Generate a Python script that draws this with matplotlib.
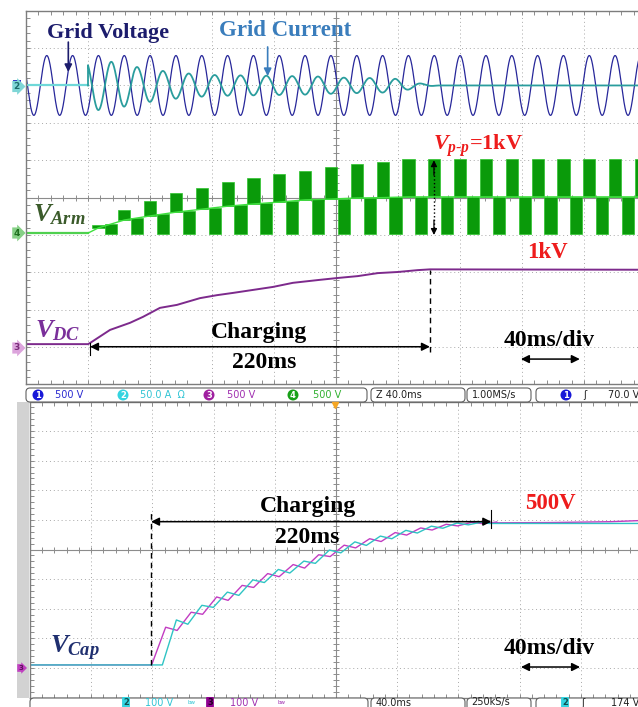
import numpy as np
import matplotlib.pyplot as plt
from matplotlib.patches import FancyBboxPatch, Rectangle

plt.rcParams['mathtext.fontset'] = 'custom'
plt.rcParams['mathtext.it'] = 'Liberation Serif:italic:bold'
plt.rcParams['mathtext.rm'] = 'Liberation Serif:bold'
plt.rcParams['mathtext.bf'] = 'Liberation Serif:bold'

W, H = 638, 707
SERIF = 'Liberation Serif'

# ---------------- top capture: 40 ms/div, values in divisions ----------------
GRID_HZ = 60.0
T_PEAK0 = 13.4          # ms, first grid voltage peak
V_CENTER = 8.0          # div, ch1 / ch2 offset
V_AMP = 0.80            # div
T_START = 40.0          # ms, charging starts

# grid current envelope (div)
CUR_ENV_T = [40, 46, 56, 72, 88, 105, 121, 138, 155, 172, 188, 203, 222, 238, 248, 258, 266, 400]
CUR_ENV_A = [0.66, 0.66, 0.63, 0.49, 0.39, 0.32, 0.28, 0.27, 0.26, 0.25, 0.24, 0.21,
             0.20, 0.18, 0.10, 0.03, 0.0, 0.0]

# arm voltage, one block pair per grid cycle
ARM_BASE = 4.05
ARM_BOTTOM = 4.03
ARM_TOP = [4.27, 4.67, 4.92, 5.12, 5.26, 5.42, 5.52, 5.63, 5.71, 5.82, 5.90, 5.95,
           6.02, 6.02, 6.02, 6.02, 6.02, 6.02, 6.02, 6.02, 6.02, 6.02]
ARM_MID = [4.19, 4.40, 4.51, 4.61, 4.69, 4.77, 4.83, 4.88, 4.94, 4.96, 4.99, 5.00,
           5.02, 5.02, 5.02, 5.02, 5.02, 5.02, 5.02, 5.02, 5.02, 5.02]

# DC link voltage (ms, div)
VDC_T = [0, 40.0, 41.3, 54.2, 67.1, 75.5, 86.4, 97.4, 112.2, 123.2, 133.5, 146.4, 159.3,
         172.2, 189.6, 201.2, 214.1, 227.0, 239.9, 252.8, 260.6, 400]
VDC_V = [1.08, 1.08, 1.11, 1.46, 1.65, 1.81, 2.05, 2.13, 2.31, 2.39, 2.45, 2.53, 2.61,
         2.72, 2.80, 2.85, 2.90, 2.98, 3.01, 3.06, 3.08, 3.07]

# ---------------- bottom capture: capacitor voltages ----------------
CAP_BASE = 1.10
CAP_ENV_T = [79.5, 83, 88, 95, 105, 120, 135, 150, 165, 180, 195, 210, 225, 240, 255, 270, 285, 300, 340, 400]
CAP_ENV_V = [1.10, 1.75, 2.15, 2.40, 2.70, 3.20, 3.55, 3.95, 4.25, 4.50, 4.85, 5.12, 5.30,
             5.50, 5.65, 5.78, 5.87, 5.90, 5.90, 5.92]
CAP_RIPPLE = [0.40, 0.34, 0.30, 0.28, 0.26, 0.25, 0.24, 0.22, 0.20, 0.18, 0.15, 0.12, 0.08, 0.04]
CAP3_START, CAP2_START = 79.5, 86.5
CAP3_TAIL_T, CAP3_TAIL_V = [300, 340, 380, 400], [5.90, 5.91, 5.94, 5.98]
CAP2_TAIL_T, CAP2_TAIL_V = [300, 400], [5.88, 5.88]

NAVY = '#27279a'
TEAL = '#2a9d9d'
GREEN = '#0a9a0a'
PURPLE = '#7d2a8c'
CYAN2 = '#2fc4c4'
MAG3 = '#c23cc2'


def style_panel(ax):
    ax.set_xlim(0, 400)
    ax.set_ylim(0, 10)
    for x in range(40, 400, 40):
        if x != 200:
            ax.axvline(x, color='#a8a8a8', lw=0.7, ls=(0, (1, 3)), zorder=0)
    for y in range(1, 10):
        if y != 5:
            ax.axhline(y, color='#a8a8a8', lw=0.7, ls=(0, (1, 3)), zorder=0)
    ax.axvline(200, color='#8c8c8c', lw=0.8, zorder=0)
    ax.axhline(5, color='#8c8c8c', lw=0.8, zorder=0)
    cx = np.arange(0, 401, 8)
    ax.plot(cx, np.full(cx.size, 5.0), ls='none', marker='|', ms=4, mew=0.7, color='#8c8c8c', zorder=0)
    cy = np.arange(0, 10.01, 0.2)
    ax.plot(np.full(cy.size, 200.0), cy, ls='none', marker='_', ms=4, mew=0.7, color='#8c8c8c', zorder=0)
    ax.set_xticks(np.arange(0, 401, 40))
    ax.set_xticks(np.arange(0, 401, 8), minor=True)
    ax.set_yticks(range(11))
    ax.set_yticks(np.arange(0, 10.01, 0.2), minor=True)
    ax.tick_params(which='both', direction='in', length=3, width=0.7, color='#8c8c8c',
                   labelbottom=False, labelleft=False, top=True, right=True)
    for s in ax.spines.values():
        s.set_color('#7d7d7d')
        s.set_linewidth(1.0)


def add_panel(x0, y0, w, h):
    return fig.add_axes([x0 / W, 1 - (y0 + h) / H, w / W, h / H])


def arrow(ax, x0, x1, y, style='<|-|>'):
    ax.annotate('', xy=(x1, y), xytext=(x0, y), annotation_clip=False,
                arrowprops=dict(arrowstyle=style, color='k', lw=1.1, mutation_scale=12,
                                shrinkA=0, shrinkB=0))


fig = plt.figure(figsize=(W / 100, H / 100), dpi=100)

# ======================= top panel =======================
ax1 = add_panel(26, 10.7, 620, 373.8)
style_panel(ax1)

T = 1000.0 / GRID_HZ
t = np.linspace(0, 400, 8001)
phase = 2 * np.pi * GRID_HZ * (t - T_PEAK0) / 1000.0
ax1.plot(t, V_CENTER + V_AMP * np.cos(phase), color=NAVY, lw=0.9)

pre = t <= T_START
post = t >= T_START
ax1.plot(t[pre], np.full(pre.sum(), V_CENTER), color='#6fd8d8', lw=1.6)
i_env = np.interp(t[post], CUR_ENV_T, CUR_ENV_A)
ax1.plot(np.r_[T_START, t[post]], np.r_[V_CENTER, V_CENTER - i_env * np.cos(phase[post])],
         color=TEAL, lw=1.3)

# arm voltage blocks
n_arm = len(ARM_TOP)
t_up = T_PEAK0 + (2 + np.arange(n_arm)) * T
top = np.array(ARM_TOP)
mid = np.array(ARM_MID)
mid_next = np.r_[mid[1:], mid[-1]]
mid_low = (mid + mid_next) / 2
bw = 0.94 * T / 2
ax1.plot([0, T_START], [ARM_BASE, ARM_BASE], color='#4fd04f', lw=1.6)
ax1.plot(np.r_[T_START, t_up, 400], np.r_[ARM_BASE, mid, mid[-1]], color='#3ee03e', lw=1.0)
ax1.bar(t_up, top - mid, bottom=mid, width=bw, color=GREEN, edgecolor='#2cc42c', lw=0.5)
ax1.bar(t_up + T / 2, mid_low - ARM_BOTTOM, bottom=ARM_BOTTOM, width=bw, color=GREEN,
        edgecolor='#2cc42c', lw=0.5)

ax1.plot(VDC_T, VDC_V, color=PURPLE, lw=1.4)

# annotations
ax1.text(52.9, 9.40, 'Grid Voltage', family=SERIF, weight='bold', fontsize=16,
         color='#1c1c6c', ha='center', va='center')
ax1.annotate('', xy=(27.3, 8.36), xytext=(27.3, 9.16),
             arrowprops=dict(arrowstyle='-|>', color='#1c1c6c', lw=1.2, mutation_scale=11,
                             shrinkA=0, shrinkB=0))
ax1.text(167.1, 9.46, 'Grid Current', family=SERIF, weight='bold', fontsize=16.5,
         color='#3a7dbc', ha='center', va='center')
ax1.annotate('', xy=(155.9, 8.25), xytext=(155.9, 9.03),
             arrowprops=dict(arrowstyle='-|>', color='#3a7dbc', lw=1.2, mutation_scale=11,
                             shrinkA=0, shrinkB=0))
ax1.text(262.5, 6.38, r'$V_{p\text{-}p}$=1kV', family=SERIF, weight='bold', fontsize=16,
         color='#ee1c1c', ha='left', va='center')
ax1.plot([263.2, 263.2], [4.2, 5.8], ls=':', color='k', lw=1.0)
for y0, y1 in ((5.6, 6.0), (4.4, 4.0)):
    ax1.annotate('', xy=(263.2, y1), xytext=(263.2, y0),
                 arrowprops=dict(arrowstyle='-|>', color='k', lw=0.9, mutation_scale=9,
                                 shrinkA=0, shrinkB=0))
ax1.text(336.7, 3.52, '1kV', family=SERIF, weight='bold', fontsize=16.5, color='#ee1c1c',
         ha='center', va='center')
ax1.text(4.5, 4.35, r'$V_{Arm}$', fontsize=19, color='#3b5b2b', ha='left', va='baseline')
ax1.text(5.8, 1.27, r'$V_{DC}$', fontsize=19, color='#7a2f9a', ha='left', va='baseline')
ax1.text(150.0, 1.38, 'Charging', family=SERIF, weight='bold', fontsize=17, ha='center', va='center')
ax1.text(153.5, 0.60, '220ms', family=SERIF, weight='bold', fontsize=17, ha='center', va='center')
arrow(ax1, 41.3, 260.6, 1.01)
ax1.plot([41.3, 41.3], [0.79, 1.11], color='k', lw=0.8)
ax1.plot([260.6, 260.6], [0.87, 3.06], color='k', lw=1.0, ls=(0, (4, 3)))
ax1.text(337.3, 1.19, '40ms/div', family=SERIF, weight='bold', fontsize=17, ha='center', va='center')
arrow(ax1, 319.3, 357.3, 0.68)

# ======================= bottom panel =======================
ax2 = add_panel(30, 401.5, 612, 296)
style_panel(ax2)


def cap_trace(t0, n, tail_t, tail_v):
    ts, vs = [0, t0], [CAP_BASE, CAP_BASE]
    for k in range(n):
        tk = t0 + k * T
        r = CAP_RIPPLE[k]
        if k > 0:
            ts.append(tk)
            vs.append(np.interp(tk, CAP_ENV_T, CAP_ENV_V) - r / 2)
        th = tk + 0.55 * T
        ts.append(th)
        vs.append(np.interp(th, CAP_ENV_T, CAP_ENV_V) + r / 2)
    return ts + tail_t, vs + tail_v


ts3, vs3 = cap_trace(CAP3_START, len(CAP_RIPPLE), CAP3_TAIL_T, CAP3_TAIL_V)
ts2, vs2 = cap_trace(CAP2_START, len(CAP_RIPPLE) - 1, CAP2_TAIL_T, CAP2_TAIL_V)
ax2.plot(ts3, vs3, color=MAG3, lw=1.0)
ax2.plot(ts2, vs2, color=CYAN2, lw=1.0)

ax2.text(13.1, 1.50, r'$V_{Cap}$', fontsize=19, color='#1f2f6f', ha='left', va='baseline')
ax2.plot([78.9, 78.9], [1.10, 6.27], color='k', lw=1.0, ls=(0, (4, 3)))
arrow(ax2, 79.1, 301.5, 5.94)
ax2.plot([301.5, 301.5], [5.73, 6.33], color='k', lw=0.8)
ax2.text(181.7, 6.44, 'Charging', family=SERIF, weight='bold', fontsize=17, ha='center', va='center')
ax2.text(181.4, 5.42, '220ms', family=SERIF, weight='bold', fontsize=17, ha='center', va='center')
ax2.text(339.9, 6.57, '500V', family=SERIF, weight='bold', fontsize=16.5, color='#ee1c1c',
         ha='center', va='center')
ax2.text(339.2, 1.67, '40ms/div', family=SERIF, weight='bold', fontsize=17, ha='center', va='center')
arrow(ax2, 320.9, 359.5, 1.03)

# ======================= scope chrome (pixel overlay) =======================
ov = fig.add_axes([0, 0, 1, 1], zorder=5)
ov.set_xlim(0, W)
ov.set_ylim(H, 0)
ov.axis('off')

ov.add_patch(Rectangle((17, 402), 12, 296, color='#d2d2d2', lw=0))


def marker(x, y, s, fc, tc, fs=6.5):
    ov.text(x, y, s, ha='center', va='center', fontsize=fs, color=tc, weight='bold',
            bbox=dict(boxstyle='rarrow,pad=0.12', fc=fc, ec='none'))


ov.add_patch(Rectangle((13, 80), 8, 1.5, color='#3030c8', lw=0))
marker(16.5, 86.5, '2', '#7fd6d6', '#1b6a6a')
marker(16.5, 233, '4', '#86d086', '#1f6f1f')
marker(16.5, 348, '3', '#dca4dc', '#7a2a7a')
marker(20.5, 668, '3', '#c040c0', '#5a105a', fs=5)


def sbox(x0, x1, y0, y1):
    ov.add_patch(FancyBboxPatch((x0, y0), x1 - x0, y1 - y0,
                                boxstyle='round,pad=0,rounding_size=4',
                                fc='white', ec='#606060', lw=0.8))


def badge(x, y, s, fc, tc='white', style='circle,pad=0.12'):
    ov.text(x, y, s, ha='center', va='center', fontsize=6, color=tc, weight='bold',
            bbox=dict(boxstyle=style, fc=fc, ec='none'))


def stxt(x, y, s, c='#202020'):
    ov.text(x, y, s, ha='left', va='center', fontsize=7, color=c, family='DejaVu Sans')


# top status bar
for x0, x1 in ((26, 367), (371, 465), (467, 531), (536, 660)):
    sbox(x0, x1, 388, 402)
badge(38, 395, '1', '#1818d8')
stxt(55, 395, '500 V', '#2a2ad0')
badge(123, 395, '2', '#34d4e0')
stxt(140, 395, '50.0 A  \u03a9', '#30c4d4')
badge(209, 395, '3', '#a020a0')
stxt(227, 395, '500 V', '#a030b0')
badge(293, 395, '4', '#18a018')
stxt(313, 395, '500 V', '#30b030')
stxt(376, 395, 'Z 40.0ms')
stxt(472, 395, '1.00MS/s')
badge(566, 395, '1', '#1818d8')
stxt(583, 395, '\u0283')
stxt(608, 395, '70.0 V')
ov.plot(335, 404.5, marker='v', color='#f5a623', ms=4, ls='none')

# bottom status bar
for x0, x1 in ((30, 368), (371, 465), (467, 531), (536, 660)):
    sbox(x0, x1, 698, 712)
badge(126, 702.5, '2', '#34d4e0', '#105050', style='round,pad=0.12')
stxt(145, 702.5, '100 V', '#30c4d4')
ov.text(188, 702.5, 'bw', fontsize=4, color='#30c4d4', va='center')
badge(210, 702.5, '3', '#900090', '#200020', style='round,pad=0.12')
stxt(230, 702.5, '100 V', '#a030b0')
ov.text(277, 702.5, 'bw', fontsize=4, color='#a030b0', va='center')
stxt(376, 702.5, '40.0ms')
stxt(471, 702.5, '250kS/s')
badge(565, 702.5, '2', '#34d4e0', '#105050', style='round,pad=0.12')
stxt(581, 702.5, '\u0283')
stxt(611, 702.5, '174 V')

fig.savefig('out.png', dpi=100)
